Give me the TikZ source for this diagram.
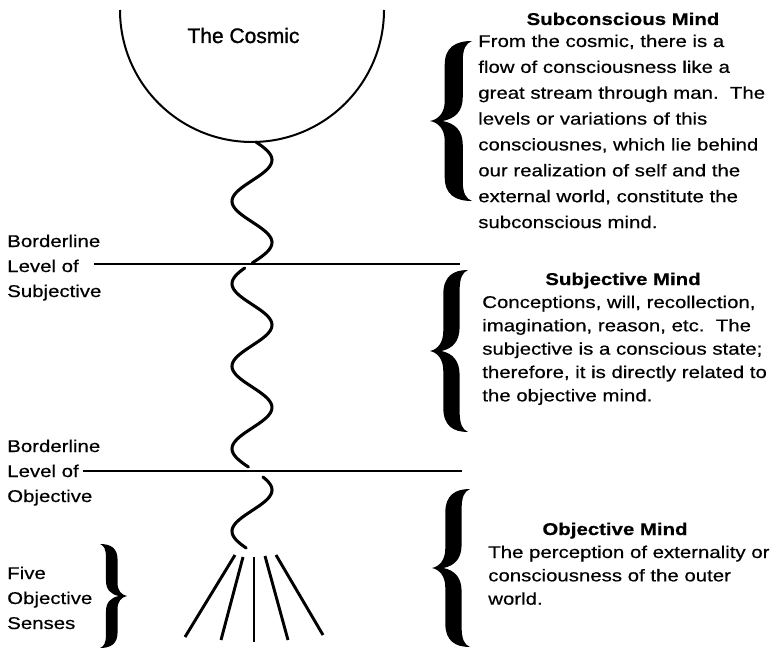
\documentclass[tikz,border=0pt]{standalone}
\usepackage{fontspec}
\setmainfont{Liberation Sans}[FakeStretch=1.2, FakeBold=0.5]
\newfontfamily\cosmicfont{Liberation Sans}[FakeBold=1.2]
\begin{document}
\begin{tikzpicture}[x=0.75pt,y=-0.75pt,
  bodytext/.style={font=\fontsize{12.75}{17.5}\selectfont\frenchspacing,
    inner sep=0pt, text width=240pt, align=left, anchor=base west},
  widetext/.style={bodytext, font=\fontsize{12.75}{19.4}\selectfont\frenchspacing},
  headtext/.style={font=\fontsize{12.75}{17.5}\selectfont\bfseries,
    inner sep=0pt, anchor=base},
  sidetext/.style={font=\fontsize{12.75}{18.75}\selectfont,
    inner sep=0pt, text width=80pt, align=left, anchor=base west},
  levelline/.style={line width=1.5pt},
  wave/.style={line width=2.3pt, line cap=round},
  ray/.style={line width=2.2pt},
  pics/curlybrace/.style={code={
    \fill (1,1) .. controls (0.6,1) and (0.35,0.92) .. (0.35,0.7)
      -- (0.35,0.25) .. controls (0.35,0.1) and (0.2,0.02) .. (0,0)
      .. controls (0.2,-0.02) and (0.35,-0.1) .. (0.35,-0.25)
      -- (0.35,-0.7) .. controls (0.35,-0.92) and (0.6,-1) .. (1,-1)
      .. controls (0.85,-0.97) and (0.78,-0.9) .. (0.78,-0.75)
      -- (0.78,-0.3) .. controls (0.78,-0.12) and (0.6,-0.03) .. (0.3,0)
      .. controls (0.6,0.03) and (0.78,0.12) .. (0.78,0.3)
      -- (0.78,0.75) .. controls (0.78,0.9) and (0.85,0.97) .. (1,1) -- cycle;
  }}
]
\useasboundingbox[fill=white] (0,0) rectangle (770,649);

% the cosmic sphere
\coordinate (cosmicL) at (120,10);
\draw[line width=1.5pt] (cosmicL) arc[start angle=180, end angle=0, radius=132];
\node[font=\cosmicfont\fontsize{15.75}{18}\selectfont, inner sep=0pt, anchor=base]
  (cosmic) at (243.5,43) {The Cosmic};

% borderlines
\coordinate (subjL) at (94,264);
\coordinate (subjR) at (460,264);
\coordinate (objL) at (83,471);
\coordinate (objR) at (462,471);
\draw[levelline] (subjL) -- (subjR);
\draw[levelline] (objL) -- (objR);

% stream of consciousness (one wave, period 82.5)
\draw[wave] plot[domain=142:263, samples=70, smooth] ({252+20*cos((\x-160)*4.3636)}, \x);
\draw[wave] plot[domain=268:467, samples=100, smooth] ({252+20*cos((\x-160)*4.3636)}, \x);
\draw[wave] plot[domain=477:548, samples=50, smooth] ({252+20*cos((\x-160)*4.3636)}, \x);

% the five senses
\draw[ray] (235,555) -- (185,637);
\draw[ray] (243,557) -- (221,640);
\draw[ray] (254,557) -- (254,642);
\draw[ray] (265,556) -- (288,640);
\draw[ray] (276,555) -- (323,635);

% left labels
\node[sidetext] (subjlabel) at (7,247) {Borderline\\Level of\\Subjective};
\node[sidetext] (objlabel) at (7,452) {Borderline\\Level of\\Objective};
\node[sidetext] (senseslabel) at (7,579) {Five\\Objective\\Senses};
\pic[xscale=-27, yscale=52] (sensesbrace) at (127,596) {curlybrace};

% subconscious mind
\pic[xscale=42, yscale=80] (subcbrace) at (430,121) {curlybrace};
\node[headtext] (subchead) at (623,25) {Subconscious Mind};
\node[widetext] (subcbody) at (478,47) {From the cosmic, there is a\\
flow of consciousness like a\\
great stream through man.\ \ The\\
levels or variations of this\\
consciousnes, which lie behind\\
our realization of self and the\\
external world, constitute the\\
subconscious mind.};

% subjective mind
\pic[xscale=38, yscale=81] (subjbrace) at (430,351) {curlybrace};
\node[headtext] (subjhead) at (623,285) {Subjective Mind};
\node[bodytext] (subjbody) at (482,308) {Conceptions, will, recollection,\\
imagination, reason, etc.\ \ The\\
subjective is a conscious state;\\
therefore, it is directly related to\\
the objective mind.};

% objective mind
\pic[xscale=38, yscale=79] (objbrace) at (432,568) {curlybrace};
\node[headtext] (objhead) at (615,535) {Objective Mind};
\node[bodytext] (objbody) at (488,558) {The perception of externality or\\
consciousness of the outer\\
world.};
\end{tikzpicture}
\end{document}
